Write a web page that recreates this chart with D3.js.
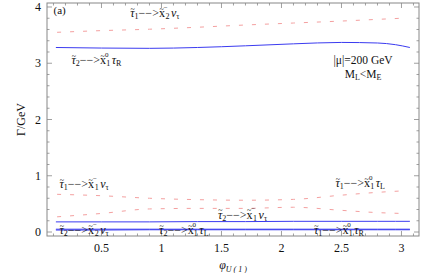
<!DOCTYPE html>
<html>
<head>
<meta charset="utf-8">
<script src="https://cdn.jsdelivr.net/npm/d3@7"></script>
<style>
  body { margin: 0; background: #fff; }
  text { font-family: "Liberation Serif", "DejaVu Serif", serif; fill: #111; }
</style>
</head>
<body>
<div id="chart"></div>
<script>
// phi_U(1) grids
var phiDash  = [0.13, 0.5, 0.9, 1.3, 1.7, 2.1, 2.5, 2.8, 3.0];
var phiSolid = [0.12, 0.5, 0.9, 1.3, 1.7, 2.1, 2.5, 2.8, 2.95, 3.07];

// red dashed widths (GeV)
var tau1ToChi2Nu   = [3.55, 3.58, 3.605, 3.64, 3.68, 3.715, 3.75, 3.78, 3.80];
var tau1ToChi1Nu   = [0.67, 0.645, 0.60, 0.575, 0.565, 0.58, 0.655, 0.705, 0.73];
var tau1ToNeu1TauL = [0.27, 0.33, 0.41, 0.42, 0.42, 0.44, 0.385, 0.345, 0.33];

// blue solid widths (GeV)
var tau2ToNeu1TauR = [3.28, 3.27, 3.265, 3.28, 3.31, 3.345, 3.37, 3.36, 3.33, 3.28];
var tau2ToChi1Nu   = [0.18, 0.18, 0.18, 0.185, 0.185, 0.19, 0.19, 0.19, 0.19, 0.19];
var tau2ToChi2Nu   = [0.05, 0.05, 0.05, 0.05, 0.05, 0.05, 0.05, 0.05, 0.05, 0.05];
var tau1ToNeu1TauR = [0.035, 0.035, 0.04, 0.04, 0.04, 0.04, 0.04, 0.04, 0.04, 0.04];

var xTicks = [0.5, 1, 1.5, 2, 2.5, 3];
var yTicks = [0, 1, 2, 3, 4];

var margin = {top: 3, right: 17, bottom: 37, left: 47},
    width = 436 - margin.left - margin.right,
    height = 273 - margin.top - margin.bottom;

var svg = d3.select("#chart")
  .append("svg")
    .attr("width", 436)
    .attr("height", 273)
  .append("g")
    .attr("transform", "translate(" + margin.left + "," + margin.top + ")");

var x = d3.scaleLinear().domain([0.046, 3.146]).range([0, width]);
var y = d3.scaleLinear().domain([-0.071, 4.071]).range([height, 0]);

// frame
svg.append("rect")
  .attr("width", width).attr("height", height)
  .attr("fill", "none").attr("stroke", "#888").attr("stroke-width", 1);

// inward ticks on all four sides
var xMinor = d3.range(0.1, 3.15, 0.1);
var yMinor = d3.range(0, 4.01, 0.2);
function isMajor(v, list) { return list.some(function(t) { return Math.abs(t - v) < 1e-6; }); }

var tickG = svg.append("g").attr("stroke", "#888").attr("stroke-width", 0.8);
xMinor.forEach(function(v) {
  var len = isMajor(v, xTicks) ? 5 : 2.5;
  tickG.append("line").attr("x1", x(v)).attr("x2", x(v)).attr("y1", height).attr("y2", height - len);
  tickG.append("line").attr("x1", x(v)).attr("x2", x(v)).attr("y1", 0).attr("y2", len);
});
yMinor.forEach(function(v) {
  var len = isMajor(v, yTicks) ? 5 : 2.5;
  tickG.append("line").attr("y1", y(v)).attr("y2", y(v)).attr("x1", 0).attr("x2", len);
  tickG.append("line").attr("y1", y(v)).attr("y2", y(v)).attr("x1", width).attr("x2", width - len);
});

svg.selectAll(".xlab").data(xTicks).enter().append("text")
  .attr("x", function(d) { return x(d); })
  .attr("y", height + 16)
  .attr("text-anchor", "middle")
  .style("font-size", "12px")
  .text(function(d) { return d; });

svg.selectAll(".ylab").data(yTicks).enter().append("text")
  .attr("x", -6)
  .attr("y", function(d) { return y(d) + 4; })
  .attr("text-anchor", "end")
  .style("font-size", "12px")
  .text(function(d) { return d; });

// axis titles
svg.append("text")
  .attr("transform", "translate(-22," + (height / 2) + ") rotate(-90)")
  .attr("text-anchor", "middle")
  .style("font-size", "12px")
  .text("Γ/GeV");

var xt = svg.append("text")
  .attr("x", width / 2).attr("y", height + 33)
  .attr("text-anchor", "middle")
  .style("font-size", "12px")
  .style("font-style", "italic");
xt.append("tspan").text("φ");
xt.append("tspan").attr("dy", 3).style("font-size", "8px").text("U ( 1 )");

// curves
var line = d3.line().curve(d3.curveMonotoneX);

function drawSeries(xs, ys, color, dash) {
  svg.append("path")
    .datum(xs.map(function(p, i) { return [x(p), y(ys[i])]; }))
    .attr("d", line)
    .attr("fill", "none")
    .attr("stroke", color)
    .attr("stroke-width", 1)
    .attr("stroke-dasharray", dash);
}

var red = "#f4a0a0", blue = "#3b3bf0";
drawSeries(phiDash, tau1ToChi2Nu, red, "4,9");
drawSeries(phiDash, tau1ToChi1Nu, red, "4,9");
drawSeries(phiDash, tau1ToNeu1TauL, red, "4,9");
drawSeries(phiSolid, tau2ToNeu1TauR, blue, null);
drawSeries(phiSolid, tau2ToChi1Nu, blue, null);
drawSeries(phiSolid, tau2ToChi2Nu, blue, null);
drawSeries(phiSolid, tau1ToNeu1TauR, blue, null);

// decay labels: stau index, chi sup/sub, final state
function decayLabel(px, py, stau, sup, sub, fin, finSub) {
  var t = svg.append("text")
    .attr("x", x(px)).attr("y", y(py))
    .style("font-size", "12px");
  t.append("tspan").style("font-style", "italic").text("τ");
  t.append("tspan").attr("dx", -4).attr("dy", -5.5).style("font-size", "8px").text("~");
  t.append("tspan").attr("dx", -0.3).attr("dy", 7.5).style("font-size", "8px").text(stau);
  t.append("tspan").attr("dy", -2).text("−−>");
  t.append("tspan").text("x");
  t.append("tspan").attr("dx", -5.5).attr("dy", -5.5).style("font-size", "8px").text("~");
  t.append("tspan").attr("dy", -2).style("font-size", "7px").text(sup);
  t.append("tspan").attr("dx", -2.2).attr("dy", 9.5).style("font-size", "8px").text(sub);
  t.append("tspan").attr("dx", 1.5).attr("dy", -2).style("font-style", "italic").text(fin);
  t.append("tspan").attr("dy", 2).style("font-size", "8px").text(finSub);
}

decayLabel(0.74, 3.82, "1", "−", "2", "ν", "τ");
decayLabel(0.25, 2.98, "2", "0", "1", "τ", "R");
decayLabel(0.15, 0.78, "1", "−", "1", "ν", "τ");
decayLabel(2.45, 0.8, "1", "0", "1", "τ", "L");
decayLabel(1.47, 0.24, "2", "−", "1", "ν", "τ");
decayLabel(0.15, -0.04, "2", "−", "2", "ν", "τ");
decayLabel(0.98, -0.04, "2", "0", "1", "τ", "L");
decayLabel(2.27, -0.04, "1", "0", "1", "τ", "R");

svg.append("text").attr("x", x(0.1)).attr("y", y(3.88))
  .style("font-size", "11px").text("(a)");

svg.append("text").attr("x", x(2.68)).attr("y", y(2.98))
  .attr("text-anchor", "middle").style("font-size", "11.5px")
  .text("|μ|=200 GeV");
var ml = svg.append("text").attr("x", x(2.68)).attr("y", y(2.73))
  .attr("text-anchor", "middle").style("font-size", "11.5px");
ml.append("tspan").text("M");
ml.append("tspan").attr("dy", 2).style("font-size", "8px").text("L");
ml.append("tspan").attr("dy", -2).text("<M");
ml.append("tspan").attr("dy", 2).style("font-size", "8px").text("E");
</script>
</body>
</html>
